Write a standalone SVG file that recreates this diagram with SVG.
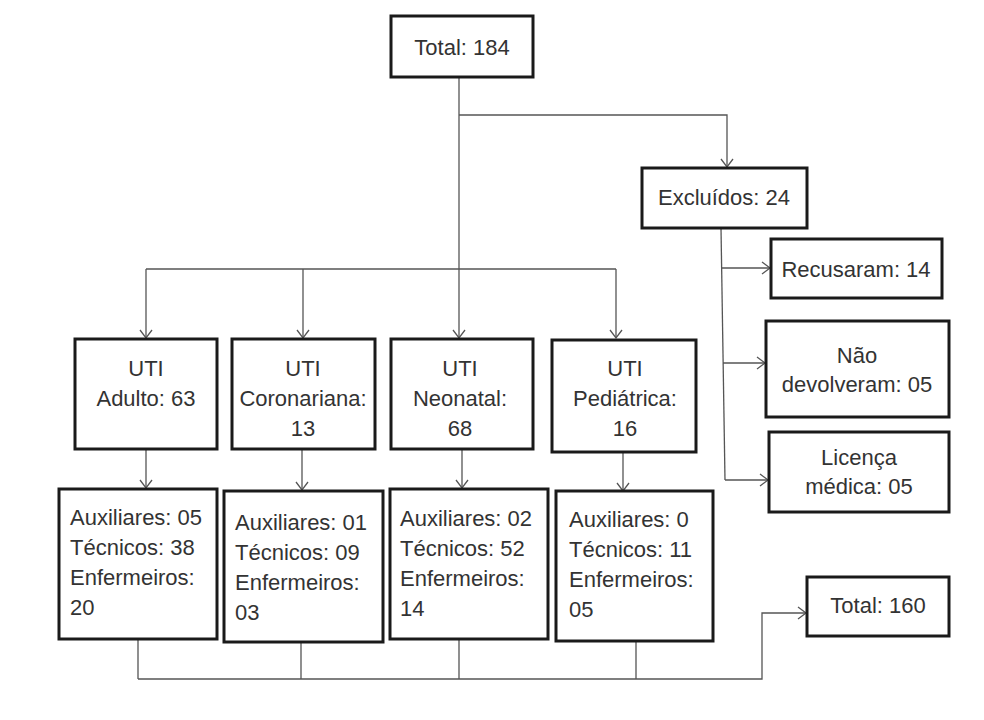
<svg xmlns="http://www.w3.org/2000/svg" width="984" height="720" viewBox="0 0 984 720">
<defs>
<style>
.box{fill:#fff;stroke:#1a1a1a;stroke-width:3}
.t{font-family:"Liberation Sans",Arial,sans-serif;font-size:22px;fill:#333}
.c{text-anchor:middle}
.ln{fill:none;stroke:#555;stroke-width:1.3}
</style>
<marker id="ah" markerUnits="userSpaceOnUse" markerWidth="12" markerHeight="14" refX="9" refY="7" orient="auto">
<path d="M1,1 L9,7 L1,13" fill="none" stroke="#555" stroke-width="1.3"/>
</marker>
</defs>
<rect width="984" height="720" fill="#fff"/>
<g id="connectors">
<path class="ln" d="M459,77 V269"/>
<path class="ln" d="M459,115 H727 V167" marker-end="url(#ah)"/>
<path class="ln" d="M146,269 H616"/>
<path class="ln" d="M146,269 V338" marker-end="url(#ah)"/>
<path class="ln" d="M303,269 V338" marker-end="url(#ah)"/>
<path class="ln" d="M459,269 V338" marker-end="url(#ah)"/>
<path class="ln" d="M616,269 V338" marker-end="url(#ah)"/>
<path class="ln" d="M721,228 L725,480"/>
<path class="ln" d="M721,268 H770" marker-end="url(#ah)"/>
<path class="ln" d="M723,363 H765" marker-end="url(#ah)"/>
<path class="ln" d="M725,480 H768" marker-end="url(#ah)"/>
<path class="ln" d="M146,449 V488" marker-end="url(#ah)"/>
<path class="ln" d="M302,449 V490" marker-end="url(#ah)"/>
<path class="ln" d="M462,449 V488" marker-end="url(#ah)"/>
<path class="ln" d="M623,452 V491" marker-end="url(#ah)"/>
<path class="ln" d="M138,639 V679 M301,642 V679 M459,639 V679 M636,641 V679"/>
<path class="ln" d="M138,679 H762 V613 H806" marker-end="url(#ah)"/>
</g>
<g id="total184"><rect class="box" x="391" y="16" width="142" height="61"/><text class="t c" x="462" y="55">Total: 184</text></g>
<g id="excluidos"><rect class="box" x="642" y="168" width="165" height="60"/><text class="t c" x="724" y="205">Excluídos: 24</text></g>
<g id="recusaram"><rect class="box" x="771" y="239" width="171" height="59"/><text class="t c" x="856" y="277">Recusaram: 14</text></g>
<g id="naodevolveram"><rect class="box" x="766" y="321" width="183" height="96"/><text class="t c" x="857" y="363">Não</text><text class="t c" x="857" y="392">devolveram: 05</text></g>
<g id="licenca"><rect class="box" x="769" y="432" width="180" height="80"/><text class="t c" x="859" y="465">Licença</text><text class="t c" x="859" y="494">médica: 05</text></g>
<g id="utiadulto"><rect class="box" x="75" y="339" width="142" height="110"/><text class="t c" x="146" y="376">UTI</text><text class="t c" x="146" y="406">Adulto: 63</text></g>
<g id="uticoronariana"><rect class="box" x="232" y="339" width="143" height="110"/><text class="t c" x="303" y="376">UTI</text><text class="t c" x="303" y="406">Coronariana:</text><text class="t c" x="303" y="436">13</text></g>
<g id="utineonatal"><rect class="box" x="391" y="339" width="142" height="110"/><text class="t c" x="460" y="376">UTI</text><text class="t c" x="460" y="406">Neonatal:</text><text class="t c" x="460" y="436">68</text></g>
<g id="utipediatrica"><rect class="box" x="552" y="340" width="144" height="112"/><text class="t c" x="625" y="376">UTI</text><text class="t c" x="625" y="406">Pediátrica:</text><text class="t c" x="625" y="436">16</text></g>
<g id="adultodet"><rect class="box" x="59" y="489" width="158" height="150"/><text class="t" x="70" y="525">Auxiliares: 05</text><text class="t" x="70" y="555">Técnicos: 38</text><text class="t" x="70" y="585">Enfermeiros:</text><text class="t" x="70" y="615">20</text></g>
<g id="coronarianadet"><rect class="box" x="224" y="491" width="159" height="151"/><text class="t" x="235" y="530">Auxiliares: 01</text><text class="t" x="235" y="560">Técnicos: 09</text><text class="t" x="235" y="590">Enfermeiros:</text><text class="t" x="235" y="620">03</text></g>
<g id="neonataldet"><rect class="box" x="390" y="489" width="158" height="150"/><text class="t" x="400" y="526">Auxiliares: 02</text><text class="t" x="400" y="556">Técnicos: 52</text><text class="t" x="400" y="586">Enfermeiros:</text><text class="t" x="400" y="616">14</text></g>
<g id="pediatricadet"><rect class="box" x="556" y="491" width="157" height="150"/><text class="t" x="569" y="527">Auxiliares: 0</text><text class="t" x="569" y="557">Técnicos: 11</text><text class="t" x="569" y="587">Enfermeiros:</text><text class="t" x="569" y="617">05</text></g>
<g id="total160"><rect class="box" x="807" y="577" width="142" height="59"/><text class="t c" x="878" y="613">Total: 160</text></g>
</svg>
